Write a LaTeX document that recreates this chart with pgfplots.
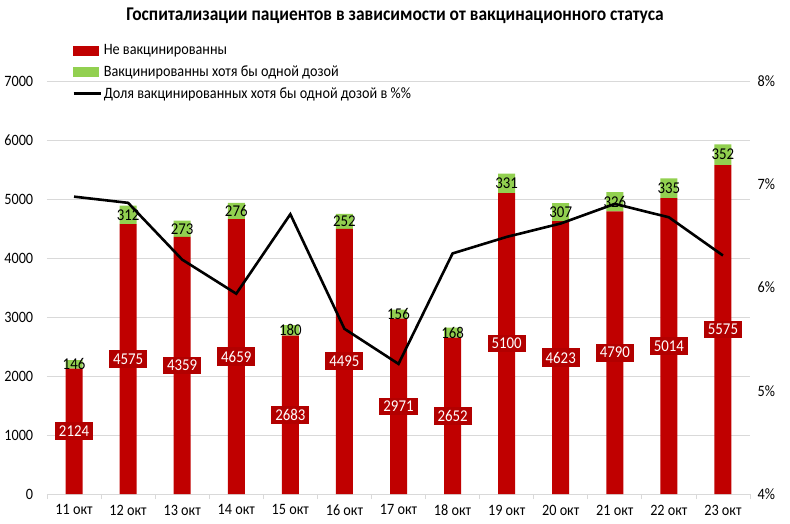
\documentclass[border=0pt]{standalone}
\usepackage{pgfplots}
\usepackage{pgfplotstable}
\usepackage{fontspec}
\setmainfont{Carlito}[FakeStretch=0.9]
\pgfplotsset{compat=1.18}

\definecolor{barred}{HTML}{C00000}
\definecolor{boxred}{HTML}{B20000}
\definecolor{vgreen}{HTML}{92D050}
\definecolor{gridgray}{HTML}{D9D9D9}

% x: day index, red: not vaccinated, green: at least one dose, pct: share in %
\pgfplotstableread{
x red green pct
0 2124 146 6.88
1 4575 312 6.82
2 4359 273 6.27
3 4659 276 5.94
4 2683 180 6.71
5 4495 252 5.60
6 2971 156 5.26
7 2652 168 6.33
8 5100 331 6.49
9 4623 307 6.62
10 4790 326 6.81
11 5014 335 6.68
12 5575 352 6.31
}\data

\pgfplotsset{
  base/.style={
    width=703pt, height=413pt, scale only axis,
    xmin=-0.5, xmax=12.5,
    font=\fontsize{15.8}{18}\selectfont,
    /pgf/number format/assume math mode=true,
    /pgf/number format/1000 sep={},
    scaled y ticks=false,
  },
  numlabel/.style={
    draw=none, mark=none,
    nodes near coords={\pgfmathprintnumber{\pgfplotspointmeta}},
    point meta=explicit,
  },
}

\begin{document}
\begin{tikzpicture}
\useasboundingbox (-47pt,-29pt) rectangle (743pt,494pt);

% bars
\begin{axis}[
  base,
  ybar stacked, bar width=17pt,
  ymin=0, ymax=7000,
  ytick={0,1000,...,7000},
  ymajorgrids, grid style={gridgray, line width=0.8pt},
  axis x line*=bottom, axis y line*=left,
  y axis line style={draw=none},
  x axis line style={gridgray, line width=0.8pt},
  ytick style={draw=none},
  xtick={0,...,12},
  xticklabels={11 окт,12 окт,13 окт,14 окт,15 окт,16 окт,17 окт,18 окт,19 окт,20 окт,21 окт,22 окт,23 окт},
  major x tick style={draw=none},
  minor xtick={-0.5,0.5,...,12.5},
  minor x tick style={gridgray, line width=0.8pt},
  minor tick length=5pt, tick align=outside,
  yticklabel style={xshift=-6pt},
  xticklabel style={yshift=-3pt},
]
\addplot[fill=barred, draw=none] table[x=x, y=red] {\data};
\addplot[fill=vgreen, draw=none] table[x=x, y=green] {\data};
\end{axis}

% value labels
\begin{axis}[base, ymin=0, ymax=7000, hide axis]
\addplot[numlabel,
  every node near coord/.style={anchor=center, fill=boxred, text=white,
    font=\fontsize{16.5}{19}\selectfont, inner xsep=4pt, inner ysep=3.5pt}]
  table[x=x, y expr=\thisrow{red}/2, meta=red] {\data};
\addplot[numlabel,
  every node near coord/.style={anchor=center, text=black, inner sep=0pt,
    font=\fontsize{16.5}{19}\selectfont}]
  table[x=x, y expr=\thisrow{red}+\thisrow{green}/2, meta=green] {\data};
\end{axis}

% share line, right axis, legend, title
\begin{axis}[
  base,
  ymin=4, ymax=8,
  ytick={4,5,6,7,8},
  yticklabel={\pgfmathprintnumber{\tick}\%},
  axis y line*=right, axis x line=none,
  y axis line style={draw=none},
  ytick style={draw=none},
  yticklabel style={xshift=4pt},
  title={Госпитализации пациентов в зависимости от вакцинационного статуса},
  title style={font=\bfseries\fontsize{19.4}{22}\selectfont, at={(0.495,1.143)}, anchor=center},
  legend style={at={(0.0356,1.094)}, anchor=north west, draw=none, fill=none,
    inner sep=0pt, row sep=5.5pt, font=\fontsize{15.8}{18}\selectfont},
  legend cell align=left,
]
\addlegendimage{legend image code/.code={\fill[barred] (0pt,-4.5pt) rectangle (25pt,4.5pt);}}
\addlegendentry{Не вакцинированны}
\addlegendimage{legend image code/.code={\fill[vgreen] (0pt,-4.5pt) rectangle (25pt,4.5pt);}}
\addlegendentry{Вакцинированны хотя бы одной дозой}
\addlegendimage{legend image code/.code={\draw[black, line width=2.6pt] (0pt,0pt) -- (27pt,0pt);}}
\addlegendentry{Доля вакцинированных хотя бы одной дозой в \%\%}
\addplot[black, line width=2.6pt, mark=none, forget plot]
  table[x=x, y=pct] {\data};
\end{axis}
\end{tikzpicture}
\end{document}
